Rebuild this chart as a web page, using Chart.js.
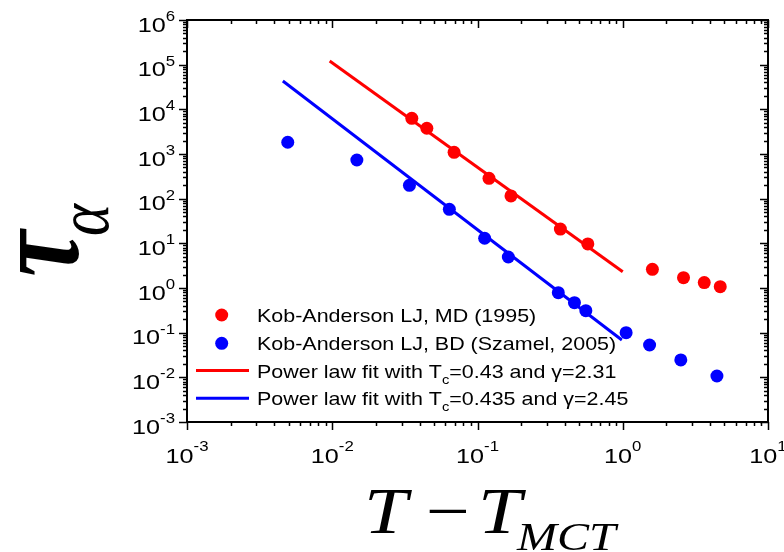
<!DOCTYPE html>
<html>
<head>
<meta charset="utf-8">
<script src="https://cdn.jsdelivr.net/npm/chart.js@4.4.1/dist/chart.umd.min.js"></script>
<style>
html,body{margin:0;padding:0;background:#fff;}
#wrap{width:784px;height:552px;position:relative;}
</style>
</head>
<body>
<div id="wrap"><canvas id="c" width="784" height="552"></canvas></div>
<script>
// ---- data ----
const redX  = [0.0353, 0.0448, 0.069, 0.120, 0.170, 0.372, 0.575, 1.60, 2.62, 3.64, 4.69];
const redY  = [6300, 3770, 1090, 286, 115, 20.9, 9.7, 2.62, 1.70, 1.32, 1.07];
const blueX = [0.00494, 0.01477, 0.0340, 0.0640, 0.112, 0.163, 0.360, 0.465, 0.557, 1.055, 1.53, 2.51, 4.45];
const blueY = [1830, 735, 199, 57.8, 13.0, 4.95, 0.785, 0.469, 0.310, 0.100, 0.053, 0.0245, 0.0107];
const redFitX  = [0.0096, 1.0];
const redFitY  = [1.21e5, 2.32];
const blueFitX = [0.00457, 0.986];
const blueFitY = [4.3e4, 0.0686];
const xTickExps = [-3, -2, -1, 0, 1];
const yTickExps = [-3, -2, -1, 0, 1, 2, 3, 4, 5, 6];
const seriesLabels = [
  "Kob-Anderson LJ, MD (1995)",
  "Kob-Anderson LJ, BD (Szamel, 2005)",
  "Power law fit with T_c=0.43 and \u03b3=2.31",
  "Power law fit with T_c=0.435 and \u03b3=2.45"
];
const xTitleMain = ["T", "\u2212", "T"];
const xTitleSub = "MCT";
const yTitleMain = "\u03c4";
const yTitleSub = "\u03b1";

const RED = "#ff0000", BLUE = "#0000ff";
const SX = 1.2; // horizontal stretch of the reference's text
const SANS = "'Liberation Sans', Arial, sans-serif";
const SERIF = "'Liberation Serif', 'Times New Roman', serif";

function pts(xa, ya){ return xa.map((x,i)=>({x:x, y:ya[i]})); }

function sText(ctx, str, x, y, font, align, sx){
  const k = sx || SX;
  ctx.font = font;
  const w = ctx.measureText(str).width * k;
  let x0 = x;
  if (align === 'center') x0 = x - w/2;
  else if (align === 'right') x0 = x - w;
  ctx.save();
  ctx.translate(x0, y);
  ctx.scale(k, 1);
  ctx.textAlign = 'left';
  ctx.textBaseline = 'alphabetic';
  ctx.fillText(str, 0, 0);
  ctx.restore();
  return w;
}
function sWidth(ctx, str, font){ ctx.font = font; return ctx.measureText(str).width * SX; }

const decor = {
  id: 'decor',
  afterDraw(chart){
    const ctx = chart.ctx, a = chart.chartArea;
    const xs = chart.scales.x, ys = chart.scales.y;
    ctx.save();
    ctx.strokeStyle = '#000'; ctx.fillStyle = '#000';
    // frame
    ctx.lineWidth = 2;
    ctx.strokeRect(a.left, a.top, a.right - a.left, a.bottom - a.top);
    ctx.lineWidth = 1.5;
    // ticks
    function xt(v, len){
      const p = Math.round(xs.getPixelForValue(v)) + 0.5;
      ctx.beginPath();
      ctx.moveTo(p, a.bottom); ctx.lineTo(p, a.bottom + len);
      ctx.moveTo(p, a.top); ctx.lineTo(p, a.top + len);
      ctx.stroke();
    }
    function yt(v, len){
      const p = Math.round(ys.getPixelForValue(v)) + 0.5;
      ctx.beginPath();
      ctx.moveTo(a.left, p); ctx.lineTo(a.left - len, p);
      ctx.moveTo(a.right, p); ctx.lineTo(a.right - len, p);
      ctx.stroke();
    }
    for (let e = -3; e <= 1; e++){
      xt(Math.pow(10, e), 8);
      if (e < 1) for (let k = 2; k <= 9; k++) xt(k * Math.pow(10, e), 4);
    }
    for (let e = -3; e <= 6; e++){
      yt(Math.pow(10, e), 8);
      if (e < 6) for (let k = 2; k <= 9; k++) yt(k * Math.pow(10, e), 4);
    }
    // tick labels
    const F10 = "21px " + SANS, FSUP = "14px " + SANS;
    xTickExps.forEach(e => {
      const p = xs.getPixelForValue(Math.pow(10, e));
      const s = String(e);
      const w = sWidth(ctx, "10", F10) + sWidth(ctx, s, FSUP);
      let x0 = p - w/2;
      x0 += sText(ctx, "10", x0, 463, F10, 'left');
      sText(ctx, s, x0, 451, FSUP, 'left');
    });
    yTickExps.forEach(e => {
      const p = ys.getPixelForValue(Math.pow(10, e));
      const s = String(e);
      const ws = sWidth(ctx, s, FSUP);
      const right = 175;
      sText(ctx, s, right - ws, p + 1, FSUP, 'left');
      sText(ctx, "10", right - ws, p + 11.5, F10, 'right');
    });
    // x title
    const FT = "italic 65px " + SERIF;
    sText(ctx, xTitleMain[0], 364, 533, FT, 'left');
    sText(ctx, xTitleMain[1], 426, 533, "65px " + SERIF, 'left');
    sText(ctx, xTitleMain[2], 478, 533, FT, 'left');
    sText(ctx, xTitleSub, 517, 550, "italic 40px " + SERIF, 'left');
    // y title (rotated)
    ctx.save();
    ctx.translate(78, 277);
    ctx.rotate(-Math.PI/2);
    ctx.scale(1, SX);
    ctx.textAlign = 'left'; ctx.textBaseline = 'alphabetic';
    ctx.font = "bold italic 104px " + SERIF;
    ctx.fillText(yTitleMain, 0, 0);
    ctx.font = "italic 61px " + SERIF;
    ctx.fillText(yTitleSub, 41, 25);
    ctx.restore();
    // legend
    const LSX = 1.13;
    const FL = "19px " + SANS, FLS = "13px " + SANS;
    const rows = [315, 343.3, 370.5, 398.3];
    const ds = chart.data.datasets;
    ds.forEach((d, i) => {
      const cy = rows[i];
      if (i < 2){
        ctx.fillStyle = d.backgroundColor;
        ctx.beginPath(); ctx.arc(221.7, cy, 6.5, 0, Math.PI*2); ctx.fill();
      } else {
        ctx.strokeStyle = d.borderColor; ctx.lineWidth = 3;
        ctx.beginPath(); ctx.moveTo(196, cy); ctx.lineTo(249, cy); ctx.stroke();
      }
      ctx.fillStyle = '#000';
      const base = cy + 7;
      const parts = d.label.split("_");
      let x = 257;
      x += sText(ctx, parts[0], x, base, FL, 'left', LSX);
      if (parts.length > 1){
        const sub = parts[1].charAt(0);
        x += sText(ctx, sub, x, base + 6, FLS, 'left', LSX);
        sText(ctx, parts[1].slice(1), x, base, FL, 'left', LSX);
      }
    });
    ctx.restore();
  }
};

new Chart(document.getElementById('c'), {
  type: 'scatter',
  data: {
    datasets: [
      { label: seriesLabels[0], data: pts(redX, redY), backgroundColor: RED, borderColor: RED,
        pointRadius: 6.5, pointHoverRadius: 6.5, pointBorderWidth: 0, showLine: false },
      { label: seriesLabels[1], data: pts(blueX, blueY), backgroundColor: BLUE, borderColor: BLUE,
        pointRadius: 6.5, pointHoverRadius: 6.5, pointBorderWidth: 0, showLine: false },
      { label: seriesLabels[2], data: pts(redFitX, redFitY), borderColor: RED, backgroundColor: RED,
        showLine: true, pointRadius: 0, borderWidth: 3 },
      { label: seriesLabels[3], data: pts(blueFitX, blueFitY), borderColor: BLUE, backgroundColor: BLUE,
        showLine: true, pointRadius: 0, borderWidth: 3 }
    ]
  },
  options: {
    responsive: false,
    animation: false,
    events: [],
    layout: { padding: { left: 0, top: 20, right: 16, bottom: 0 } },
    plugins: { legend: { display: false }, tooltip: { enabled: false } },
    scales: {
      x: { type: 'logarithmic', min: 1e-3, max: 10,
           ticks: { display: false }, grid: { display: false }, border: { display: false },
           afterFit(s){ s.height = 130; } },
      y: { type: 'logarithmic', min: 1e-3, max: 1e6,
           ticks: { display: false }, grid: { display: false }, border: { display: false },
           afterFit(s){ s.width = 187; } }
    }
  },
  plugins: [decor]
});
</script>
</body>
</html>
